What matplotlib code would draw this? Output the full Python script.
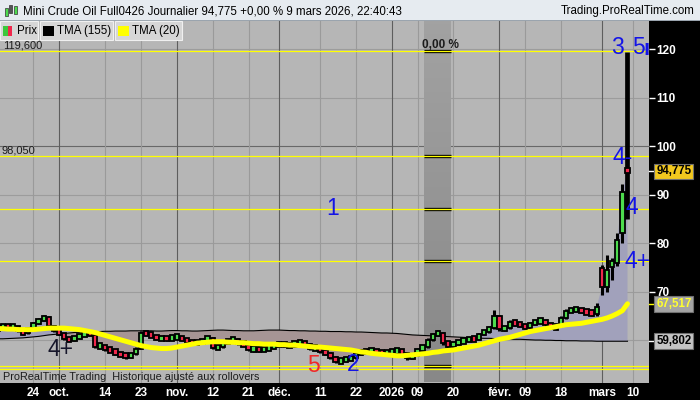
import numpy as np
import pandas as pd
import matplotlib
matplotlib.use('Agg')
import matplotlib.pyplot as plt
from matplotlib.patches import Rectangle
from matplotlib.colors import LinearSegmentedColormap

plt.rcParams['font.family'] = ['Liberation Sans', 'DejaVu Sans']

# --- données ---
holidays = ['2025-12-25', '2026-01-01']
dates = pd.bdate_range('2025-09-15', '2026-03-09', freq='C', holidays=holidays)
dates_ext = pd.bdate_range('2025-09-15', '2026-03-13', freq='C', holidays=holidays)

opens = [62.4, 62.7, 63.0, 62.6, 62.9, 62.0, 61.4, 62.6, 63.6, 64.2,
         64.7, 62.9, 62.0, 61.4, 60.3, 60.1, 60.6, 61.0, 61.6, 61.1,
         58.7, 58.9, 58.1, 57.9, 57.2, 57.0, 56.6, 57.2, 58.3, 61.5,
         61.3, 60.9, 60.2, 60.4, 60.3, 60.6, 60.7, 60.1, 59.7, 59.5,
         59.6, 60.0, 60.5, 58.4, 58.6, 59.6, 59.8, 60.3, 59.3, 59.1,
         58.0, 58.4, 57.9, 58.3, 58.5, 59.0, 59.3, 58.9, 59.0, 59.4,
         59.6, 59.2, 58.3, 58.5, 57.6, 57.3, 56.5, 55.6, 55.9, 56.1,
         56.4, 57.2, 57.8, 57.7, 57.9, 57.6, 57.4, 57.5, 57.7, 57.9,
         57.2, 56.4, 57.0, 58.2, 58.6, 60.1, 61.3, 61.6, 59.4, 59.0,
         59.2, 59.8, 59.9, 60.3, 60.2, 61.2, 61.9, 62.6, 65.0, 62.3,
         62.5, 63.8, 63.3, 63.1, 62.7, 63.4, 63.8, 64.1, 63.3, 62.6,
         62.9, 64.6, 66.0, 66.3, 66.4, 65.9, 65.8, 65.5, 74.9, 71.0,
         75.6, 75.9, 82.0, 95.1]
highs = [63.1, 63.3, 63.2, 63.2, 63.0, 62.2, 62.8, 63.8, 64.5, 65.3,
         64.9, 63.1, 62.3, 61.6, 60.6, 60.9, 61.3, 61.9, 61.8, 61.3,
         59.3, 59.1, 58.4, 58.0, 57.5, 57.2, 57.5, 58.6, 62.0, 61.9,
         61.5, 61.1, 60.8, 60.7, 60.9, 61.0, 60.8, 60.3, 59.9, 59.9,
         60.3, 60.8, 60.7, 58.9, 59.9, 60.1, 60.6, 60.5, 59.6, 59.3,
         58.7, 58.6, 58.6, 58.8, 59.3, 59.6, 59.5, 59.3, 59.7, 60.0,
         59.8, 59.4, 58.8, 58.7, 57.9, 57.5, 56.7, 56.2, 56.4, 56.8,
         57.5, 58.1, 58.0, 58.2, 58.1, 57.8, 57.8, 58.0, 58.2, 58.0,
         57.4, 57.3, 58.5, 58.9, 60.4, 61.6, 62.2, 61.8, 59.6, 59.5,
         60.1, 60.2, 60.6, 60.5, 61.5, 62.2, 62.9, 66.2, 65.3, 62.8,
         64.2, 64.0, 63.6, 63.4, 63.7, 64.1, 64.5, 64.3, 63.5, 63.2,
         64.9, 66.4, 66.7, 66.8, 66.6, 66.2, 66.0, 67.6, 75.5, 77.5,
         77.0, 82.0, 92.2, 119.4]
lows = [62.2, 62.5, 62.3, 62.4, 61.8, 61.1, 61.3, 62.4, 63.3, 63.9,
        62.6, 61.8, 61.1, 60.0, 59.8, 59.9, 60.3, 60.8, 60.9, 58.4,
        58.3, 57.8, 57.5, 56.9, 56.6, 56.2, 56.4, 57.0, 58.1, 60.9,
        60.6, 60.0, 60.0, 59.9, 60.1, 60.3, 59.9, 59.4, 59.0, 59.2,
        59.4, 59.8, 58.1, 58.1, 58.4, 59.3, 59.6, 59.0, 58.8, 57.7,
        57.6, 57.6, 57.7, 58.1, 58.3, 58.8, 58.6, 58.7, 58.8, 59.2,
        59.0, 58.0, 58.1, 57.3, 57.0, 56.2, 55.3, 55.3, 55.6, 55.9,
        56.2, 57.0, 57.4, 57.5, 57.3, 57.1, 57.2, 57.3, 57.5, 56.9,
        56.0, 56.2, 56.8, 58.0, 58.4, 59.9, 61.0, 59.1, 58.7, 58.6,
        59.0, 59.5, 59.7, 59.9, 60.0, 61.0, 61.6, 62.4, 61.9, 61.9,
        62.3, 63.0, 62.8, 62.4, 62.5, 63.2, 63.6, 63.0, 62.3, 62.4,
        62.7, 64.4, 65.8, 65.9, 65.6, 65.4, 65.1, 65.0, 69.3, 70.0,
        72.5, 75.3, 80.0, 85.0]
closes = [62.7, 63.0, 62.6, 62.9, 62.0, 61.4, 62.6, 63.6, 64.2, 64.7,
          62.9, 62.0, 61.4, 60.3, 60.1, 60.6, 61.0, 61.6, 61.1, 58.7,
          58.9, 58.1, 57.9, 57.2, 57.0, 56.6, 57.2, 58.3, 61.5, 61.3,
          60.9, 60.2, 60.4, 60.3, 60.6, 60.7, 60.1, 59.7, 59.5, 59.6,
          60.0, 60.5, 58.4, 58.6, 59.6, 59.8, 60.3, 59.3, 59.1, 58.0,
          58.4, 57.9, 58.3, 58.5, 59.0, 59.3, 58.9, 59.0, 59.4, 59.6,
          59.2, 58.3, 58.5, 57.6, 57.3, 56.5, 55.6, 55.9, 56.1, 56.4,
          57.2, 57.8, 57.7, 57.9, 57.6, 57.4, 57.5, 57.7, 57.9, 57.2,
          56.4, 57.0, 58.2, 58.6, 60.1, 61.3, 61.6, 59.4, 59.0, 59.2,
          59.8, 59.9, 60.3, 60.2, 61.2, 61.9, 62.6, 65.0, 62.3, 62.5,
          63.8, 63.3, 63.1, 62.7, 63.4, 63.8, 64.1, 63.3, 62.6, 62.9,
          64.6, 66.0, 66.3, 66.4, 65.9, 65.8, 65.5, 66.9, 71.0, 74.5,
          75.8, 80.7, 90.6, 94.775]
tma20 = [62.4, 62.4, 62.3, 62.3, 62.2, 62.2, 62.2, 62.2, 62.3, 62.4,
         62.5, 62.5, 62.5, 62.5, 62.4, 62.3, 62.2, 62.0, 61.8, 61.6,
         61.3, 61.0, 60.7, 60.4, 60.1, 59.8, 59.5, 59.2, 58.9, 58.7,
         58.5, 58.4, 58.3, 58.3, 58.4, 58.6, 58.8, 59.0, 59.2, 59.4,
         59.5, 59.6, 59.7, 59.7, 59.7, 59.6, 59.6, 59.5, 59.5, 59.4,
         59.3, 59.3, 59.2, 59.2, 59.2, 59.1, 59.1, 59.0, 59.0, 58.9,
         58.8, 58.7, 58.6, 58.6, 58.5, 58.4, 58.3, 58.2, 58.1, 58.0,
         57.8, 57.6, 57.5, 57.3, 57.2, 57.1, 57.0, 56.9, 56.8, 56.8,
         56.9, 57.0, 57.1, 57.2, 57.3, 57.5, 57.6, 57.8, 57.9, 58.0,
         58.2, 58.4, 58.6, 58.8, 59.0, 59.3, 59.6, 59.9, 60.2, 60.4,
         60.6, 60.9, 61.2, 61.5, 61.8, 62.0, 62.2, 62.4, 62.6, 62.8,
         63.0, 63.2, 63.3, 63.4, 63.5, 63.7, 63.9, 64.1, 64.3, 64.6,
         65.0, 65.5, 66.1, 67.517]
tma155 = [60.3, 60.3, 60.35, 60.4, 60.45, 60.5, 60.6,
          60.7, 60.8, 60.95, 61.1, 61.2, 61.3, 61.4, 61.5, 61.6, 61.65, 61.7,
          61.75, 61.8, 61.8, 61.85, 61.85, 61.9, 61.9, 61.9, 61.95, 61.95, 61.95,
          61.95, 61.95, 61.9, 61.9, 61.95, 62.0, 62.0, 61.95, 61.95, 61.9,
          61.9, 61.95, 62.0, 62.05, 62.1, 62.1, 62.05, 62.0, 62.0, 61.95,
          61.95, 61.95, 62.0, 62.05, 62.1, 62.1, 62.1, 62.05, 62.0, 62.0,
          61.95, 61.95,
          61.9, 61.9, 61.85, 61.85, 61.8, 61.8, 61.8, 61.75, 61.75, 61.7,
          61.7, 61.65, 61.6, 61.55, 61.5, 61.5, 61.45,
          61.4, 61.3, 61.2, 61.1, 61.05, 61.0, 60.95, 60.9, 60.85, 60.8,
          60.75, 60.7, 60.65, 60.6, 60.55, 60.5, 60.45, 60.4,
          60.4, 60.35, 60.3, 60.3, 60.25, 60.2, 60.2, 60.15, 60.1, 60.05,
          60.05, 60.0, 60.0, 59.95, 59.95, 59.9, 59.9, 59.9, 59.85, 59.85,
          59.85, 59.8, 59.8, 59.8, 59.8, 59.8, 59.8, 59.802]

levels = [119.6, 98.05, 87.1, 76.3, 54.6, 54.05]
tick_dates = ['2025-09-24', '2025-10-01', '2025-10-14', '2025-10-23', '2025-11-03',
              '2025-11-12', '2025-11-21', '2025-12-01', '2025-12-11', '2025-12-22',
              '2026-01-02', '2026-01-09', '2026-01-20', '2026-02-02', '2026-02-09',
              '2026-02-18', '2026-03-02', '2026-03-10']
tick_labels = ['24', 'oct.', '14', '23', 'nov.', '12', '21', 'déc.', '11', '22',
               '2026', '09', '20', 'févr.', '09', '18', 'mars', '10']
month_starts = ['oct.', 'nov.', 'déc.', '2026', 'févr.', 'mars']
band_dates = ('2026-01-13', '2026-01-19')   # zone grise "0,00 %"

last_price = 94.775
W, H = 700, 400


def fpx(x, y):
    """pixel (haut-gauche) -> coordonnées figure"""
    return x / W, 1 - y / H


fig = plt.figure(figsize=(7, 4), dpi=100, facecolor='black')
# barre de titre
fig.patches.append(Rectangle((0, 1 - 21 / H), 1, 21 / H, transform=fig.transFigure,
                             facecolor='#e6ebf0', edgecolor='none', zorder=0))
fig.patches.append(Rectangle((0, 1 - 21 / H), 1, 1 / H, transform=fig.transFigure,
                             facecolor='#9aa4ae', edgecolor='none', zorder=1))

ax = fig.add_axes([0, 17.5 / H, 649 / W, 361.5 / H])
ax.set_facecolor('#b6b6b6')
for s in ax.spines.values():
    s.set_visible(False)

x = np.arange(len(dates))
o = np.array(opens)
hi = np.array(highs)
lo = np.array(lows)
c = np.array(closes)
t20 = np.array(tma20)
t155 = np.array(tma155)

xmin, xmax = 0.47, 127.2
ymin, ymax = 51.3, 125.77

# zone grise
b0 = dates.get_loc(pd.Timestamp(band_dates[0])) - 0.7
b1 = dates.get_loc(pd.Timestamp(band_dates[1])) + 0.5
grad = LinearSegmentedColormap.from_list('g', ['#888888', '#a2a2a2'])
ax.imshow(np.linspace(0, 1, 100).reshape(-1, 1), cmap=grad, origin='lower',
          extent=[b0, b1, ymin, ymax], aspect='auto', zorder=1.5)

# grilles
for v in [60, 70, 80, 90, 110, 120]:
    ax.axhline(v, color='#9c9c9c', lw=0.8, zorder=1)
ax.axhline(100, color='#686868', lw=0.8, zorder=1)
tick_idx = [dates_ext.get_loc(pd.Timestamp(d)) for d in tick_dates]
for ti, lab in zip(tick_idx, tick_labels):
    if lab in month_starts:
        ax.axvline(ti, color='#5e5e5e', lw=0.8, zorder=1)
    else:
        ax.axvline(ti, color='#9a9a9a', lw=0.8, zorder=1)

# nuage entre le prix et la TMA 155
ax.fill_between(x, c, t155, where=c >= t155, interpolate=True,
                color='#a1a1bb', lw=0, zorder=2)
ax.fill_between(x, c, t155, where=c < t155, interpolate=True,
                color='#a69595', lw=0, zorder=2)
ax.plot(x, t155, color='black', lw=0.8, zorder=3)

# niveaux horizontaux
ax.hlines(levels[:5], b0, b1, color='black', lw=2.4, zorder=3)
for v in levels:
    ax.axhline(v, color='#ffff00', lw=0.9, zorder=3.2)

# chandeliers
up = c >= o
wick_w = np.full(len(x), 2.2)
wick_w[-1] = 3.4
ax.vlines(x, lo, hi, color='black', lw=wick_w, zorder=4)
body = np.maximum(np.abs(c - o), 1.1)
mid = (o + c) / 2
ax.bar(x, body, bottom=mid - body / 2, width=0.85,
       color=np.where(up, '#4ddb4d', '#f0284c'), edgecolor='black',
       linewidth=1.3, zorder=5)

# TMA 20
ax.plot(x, t20, color='#ffff00', lw=3.6, solid_capstyle='round', zorder=6)

ax.set_xlim(xmin, xmax)
ax.set_ylim(ymin, ymax)

# axe droit
ax.yaxis.tick_right()
ax.set_yticks([70, 80, 90, 100, 110, 120])
ax.tick_params(axis='y', colors='white', length=4, width=1, pad=1.5, labelsize=8.5)
for t in ax.get_yticklabels():
    t.set_fontweight('bold')

ax.set_xticks(tick_idx)
ax.set_xticklabels(tick_labels)
ax.tick_params(axis='x', colors='white', length=0, pad=3.5, labelsize=8.5)
for t in ax.get_xticklabels():
    t.set_fontweight('bold')

# étiquettes de prix à droite
ytr = ax.get_yaxis_transform()
for val, txt, fc, tc, mk in [(last_price, '94,775', '#f2c81e', 'black', 'white'),
                             (t20[-1], '67,517', '#a4a4a4', '#ffff30', '#ffff00'),
                             (t155[-1], '59,802', '#c4c4c4', 'black', 'white')]:
    ax.plot([1.0, 1.008], [val, val], color=mk, lw=1, transform=ytr, clip_on=False)
    ax.text(1.011, val, txt, transform=ytr, ha='left', va='center', fontsize=8.3,
            fontweight='bold', color=tc, clip_on=False,
            bbox=dict(boxstyle='square,pad=0.15', facecolor=fc, edgecolor='#707070', lw=0.8))

# textes de niveaux
fig.text(*fpx(3, 48), '119,600', fontsize=8, color='#1c1c1c', va='baseline')
fig.text(*fpx(2, 153), '98,050', fontsize=8, color='#1c1c1c', va='baseline')
fig.text(*fpx(440, 48), '0,00 %', fontsize=8.5, fontweight='bold', color='#1c1c1c',
         ha='center', va='baseline')
fig.text(*fpx(3, 380), 'ProRealTime Trading  Historique ajusté aux rollovers',
         fontsize=7.8, color='#1c1c1c', va='baseline')

# comptage des vagues
blue = '#1414e6'
wave = [('1', 65.5, 87.2, blue), ('2', 69.4, 55.1, blue), ('5', 61.6, 54.7, '#f02828'),
        ('3', 121.0, 120.4, blue), ('5', 125.1, 120.4, blue), ('4-', 122.0, 97.75, blue),
        ('4', 123.9, 87.45, blue), ('4+', 125.0, 76.3, blue), ('4+', 12.3, 58.0, '#16162a')]
for lab, wx, wy, col in wave:
    ax.text(wx, wy, lab, color=col, fontsize=16.5, ha='center', va='center', zorder=8)
ax.text(126.7, 120.0, 'ı', color=blue, fontsize=16, fontweight='bold',
        ha='center', va='center', zorder=8)

# titre
fig.text(*fpx(23, 11), 'Mini Crude Oil Full0426 Journalier 94,775 +0,00 % 9 mars 2026, 22:40:43',
         fontsize=8.3, color='black', va='center')
fig.text(*fpx(695, 11), 'Trading.ProRealTime.com', fontsize=8.3, color='black',
         ha='right', va='center')
# icône
for ix, iy0, iy1, col in [(6, 8, 16, '#4ddb4d'), (10.5, 5, 13, '#555555'), (15, 6, 14, '#4ddb4d')]:
    fig.patches.append(Rectangle(fpx(ix - 1.5, iy1), 3 / W, (iy1 - iy0) / H,
                                 transform=fig.transFigure, facecolor=col,
                                 edgecolor='#333333', lw=0.5, zorder=2))

# légende
boxes = [(0, 38, 'Prix', None), (40, 113, 'TMA (155)', 'black'), (115, 182, 'TMA (20)', '#ffff00')]
for bx0, bx1, lab, col in boxes:
    fig.patches.append(Rectangle(fpx(bx0, 40), (bx1 - bx0) / W, 19 / H, transform=fig.transFigure,
                                 facecolor='#d6d6d6', edgecolor='#f0f0f0', lw=0.8, zorder=3))
    if col is None:
        fig.patches.append(Rectangle(fpx(3, 36), 4.5 / W, 10 / H, transform=fig.transFigure,
                                     facecolor='#3cc83c', edgecolor='none', zorder=4))
        fig.patches.append(Rectangle(fpx(7.5, 36), 4.5 / W, 10 / H, transform=fig.transFigure,
                                     facecolor='#f0284c', edgecolor='none', zorder=4))
        tx = 17
    else:
        fig.patches.append(Rectangle(fpx(bx0 + 3, 36), 11 / W, 10 / H, transform=fig.transFigure,
                                     facecolor=col, edgecolor='none', zorder=4))
        tx = bx0 + 17
    fig.text(*fpx(tx, 31), lab, fontsize=8.3, color='black', va='center', zorder=5)

fig.savefig('out.png', dpi=100, facecolor=fig.get_facecolor())
